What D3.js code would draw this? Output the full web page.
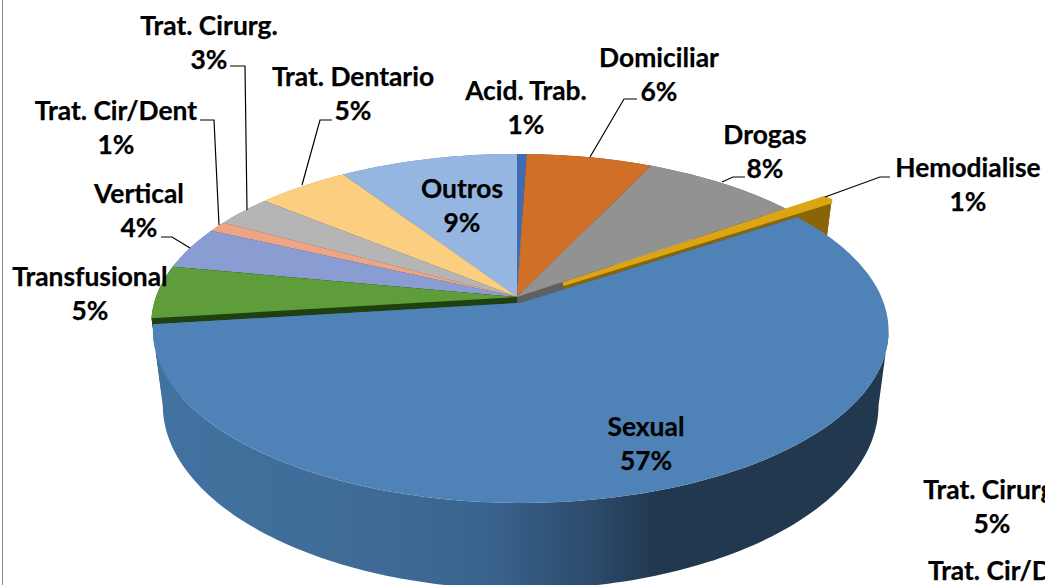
<!DOCTYPE html>
<html><head><meta charset="utf-8">
<script src="https://cdn.jsdelivr.net/npm/d3@7"></script>
<style>html,body{margin:0;padding:0;background:#fff;overflow:hidden}svg{display:block}text{font-family:Lato,"Open Sans",sans-serif;font-weight:700;font-size:26.4px;fill:#000;stroke:#000;stroke-width:0.25;text-anchor:middle}</style>
</head><body><svg id="c" width="1045" height="585"></svg>
<script>
// categories in clockwise drawing order, starting at twelve o'clock
const categories = ["Acid. Trab.","Domiciliar","Drogas","Hemodialise","Sexual","Transfusional","Vertical","Trat. Cir/Dent","Trat. Cirurg.","Trat. Dentario","Outros"];
const values = [0.5,6.5,8.1,0.5,57.4,5,4,1,3,4.8,9.2];
const percentLabels = ["1%","6%","8%","1%","57%","5%","4%","1%","3%","5%","9%"];
const topColors = ["#3f6cb5","#d06f28","#929292","#dba514","#4f83b7","#5f9c3a","#8a9dd2","#eda585","#b5b5b5","#fbcf7f","#94b6e0"];
const wallColors = ["#28467a","#8a4a1a","#5f5f5f","#8a6508","url(#wall)","#1f4010","#5a6a90","#a06a50","#777","#a88850","#5f7da0"];
const offsetU = [0,0,0,0.129,0.01,0,0,0,0,0,0];
const offsetV = [0,0,0,-0.078,0.035,0,0,0,0,0,0];
const paintOrder = [10,0,1,2,9,8,7,6,5,3,4];
// stray labels that run off the right edge in the original
const strayLabels = ["Trat. Cirurg.","5%","Trat. Cir/Dent"];

const labelAt = [[526,91],[659,58],[765,135],[968,168],[646,427],[90,277],[139,194],[116,111],[209,26],[353,77],[462,189]];
const leaders = {
  1:[[637,99],[624,99],[590,157]], 2:[[745,177],[733,177],[722,182]], 3:[[890,177],[880,177],[825,197]],
  6:[[161,237],[172,237],[190,248]], 7:[[200,120],[214,120],[219,225]], 8:[[230,66],[245,66],[247,210]], 9:[[332,120],[320,120],[302,185]]
};

const svg = d3.select("#c");
const CX=517, CY=297, R=361, Q=166, H=72, P=0.16, SHRINK=0.027;
const project=(u,v,z)=>{const w=1-P*v;return [CX+R*u*(1-SHRINK*z)/w, CY+(Q*v+H*z)/w];};

const defs=svg.append("defs");
const g=defs.append("linearGradient").attr("id","wall").attr("gradientUnits","userSpaceOnUse")
  .attr("x1",150).attr("x2",890).attr("y1",0).attr("y2",0);
[[0,"#4173a0"],[0.32,"#3f6a95"],[0.45,"#3a6490"],[0.6,"#2c4a6b"],[0.68,"#22384f"],[1,"#22384f"]].forEach(s=>g.append("stop").attr("offset",s[0]).attr("stop-color",s[1]));

// border
svg.append("path").attr("d","M2.5,585V0").attr("stroke","#8a8a8a").attr("fill","none");

const arcs=d3.pie().sort(null).value(d=>d)(values);
const line=d3.line();
function parts(i){
  const a=arcs[i], ox=offsetU[i], oy=offsetV[i];
  const n=Math.max(2,Math.ceil((a.endAngle-a.startAngle)/0.02));
  const angs=d3.range(n+1).map(k=>a.startAngle+(a.endAngle-a.startAngle)*k/n);
  const rim=z=>angs.map(t=>project(ox+Math.sin(t),oy-Math.cos(t),z));
  const apex=z=>project(ox,oy,z);
  return {rim,apex};
}
paintOrder.forEach(i=>{
  const p=parts(i), r0=p.rim(0), r1=p.rim(1), a0=p.apex(0), a1=p.apex(1);
  const gs=svg.append("g").attr("fill",wallColors[i]);
  gs.append("path").attr("d",line([a0,r0[0],r1[0],a1])+"Z");
  gs.append("path").attr("d",line([a0,r0[r0.length-1],r1[r1.length-1],a1])+"Z");
  // outer wall: only the stretch between the rim's horizontal extremes
  const iMax=d3.greatestIndex(r0,d=>d[0]), iMin=d3.leastIndex(r0,d=>d[0]);
  const from=Math.min(iMax,iMin), to=Math.max(iMax,iMin);
  gs.append("path").attr("d",line(r0.slice(from,to+1).concat(r1.slice(from,to+1).reverse()))+"Z");
  const top=svg.append("path").attr("d",line([a0].concat(r0))+"Z").attr("fill",topColors[i]);
  if(categories[i]==="Hemodialise") top.attr("stroke",topColors[i]).attr("stroke-width",4).attr("stroke-linejoin","bevel");
});

// leader lines
Object.keys(leaders).forEach(k=>svg.append("path").attr("d",line(leaders[k])).attr("fill","none").attr("stroke","#000").attr("stroke-width",1.2));

// labels
categories.forEach((c,i)=>{
  const [x,y]=labelAt[i];
  svg.append("text").attr("x",x).attr("y",y+9).text(c);
  svg.append("text").attr("x",x).attr("y",y+43).text(percentLabels[i]);
});
svg.append("text").attr("x",992).attr("y",499).text(strayLabels[0]);
svg.append("text").attr("x",992).attr("y",533).text(strayLabels[1]);
svg.append("text").attr("x",928).attr("y",580).style("text-anchor","start").text(strayLabels[2]);
</script></body></html>
